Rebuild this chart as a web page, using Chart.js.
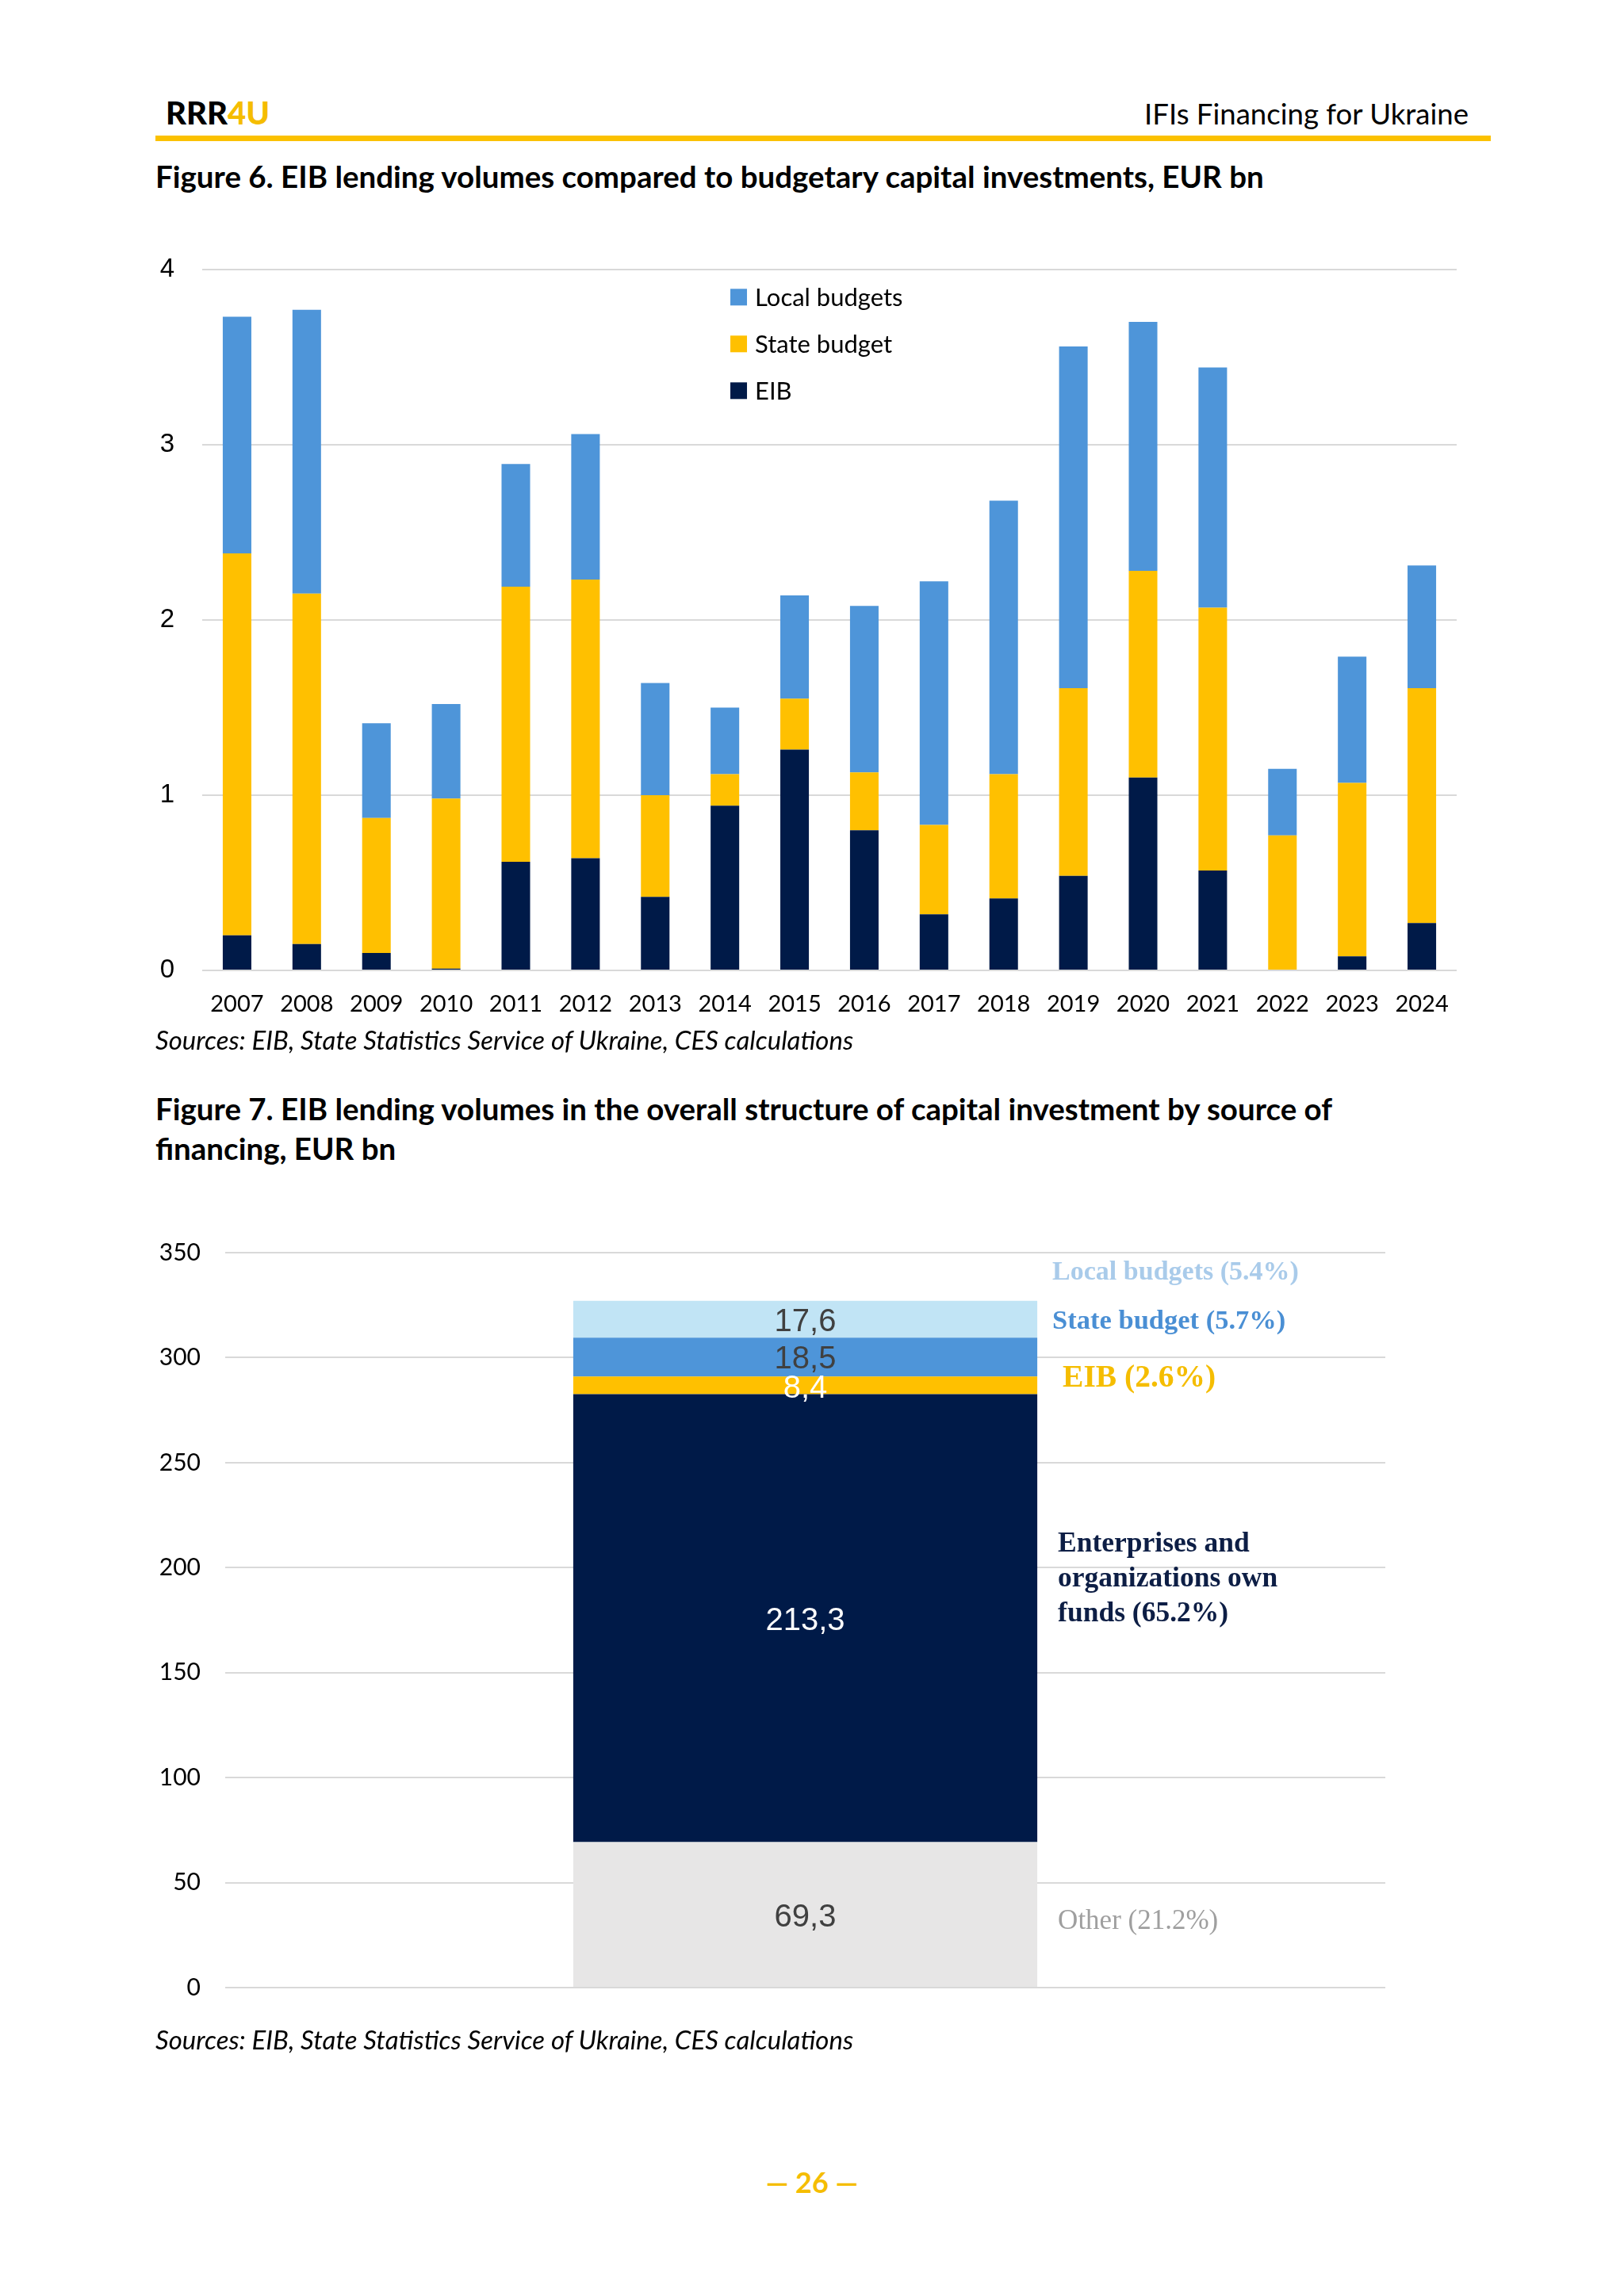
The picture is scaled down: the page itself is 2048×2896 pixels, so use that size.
<!DOCTYPE html>
<html>
<head>
<meta charset="utf-8">
<script src="https://cdn.jsdelivr.net/npm/chart.js@4.4.1/dist/chart.umd.min.js"></script>
<style>
  body { margin: 0; background: #fff; }
  #page { position: relative; width: 2048px; height: 2896px; overflow: hidden; font-family: Lato, "Noto Sans", sans-serif; color: #000; }
  .txt { position: absolute; white-space: nowrap; }
  .logo { left: 209px; top: 120px; font-size: 40px; line-height: 44px; font-weight: 900; }
  .logo span { color: #f5bd00; }
  .hdr { right: 196px; top: 123px; font-size: 36.6px; line-height: 40px; }
  .rule { position: absolute; left: 196px; top: 171px; width: 1684px; height: 7px; background: #fbc100; }
  .title { left: 196px; font-size: 38.5px; line-height: 50px; font-weight: 700; }
  .src { left: 196px; font-size: 33px; line-height: 36px; font-style: italic; }
  .box { position: absolute; left: 150px; width: 1720px; }
  .foot { left: 0; width: 2048px; text-align: center; top: 2733px; font-size: 36px; line-height: 38px; font-weight: 700; color: #f5bd00; }
</style>
</head>
<body>
<div id="page">
  <div class="txt logo">RRR<span>4U</span></div>
  <div class="txt hdr">IFIs Financing for Ukraine</div>
  <div class="rule"></div>

  <div class="txt title" style="top:197px">Figure 6. EIB lending volumes compared to budgetary capital investments, EUR bn</div>
  <div class="box" style="top:285px; height:1015px"><canvas id="chart6"></canvas></div>
  <div class="txt src" style="top:1293px">Sources: EIB, State Statistics Service of Ukraine, CES calculations</div>

  <div class="txt title" style="top:1373px">Figure 7. EIB lending volumes in the overall structure of capital investment by source of<br>financing, EUR bn</div>
  <div class="box" style="top:1531px; height:1025px"><canvas id="chart7"></canvas></div>
  <div class="txt src" style="top:2554px">Sources: EIB, State Statistics Service of Ukraine, CES calculations</div>

  <div class="txt foot">— 26 —</div>
</div>

<script>
// Figure 6 data, EUR bn (stack segments)
const years = ['2007', '2008', '2009', '2010', '2011', '2012', '2013', '2014', '2015',
               '2016', '2017', '2018', '2019', '2020', '2021', '2022', '2023', '2024'];
const eibLending   = [0.20, 0.15, 0.10, 0.01, 0.62, 0.64, 0.42, 0.94, 1.26, 0.80, 0.32, 0.41, 0.54, 1.10, 0.57, 0.00, 0.08, 0.27];
const stateBudget  = [2.18, 2.00, 0.77, 0.97, 1.57, 1.59, 0.58, 0.18, 0.29, 0.33, 0.51, 0.71, 1.07, 1.18, 1.50, 0.77, 0.99, 1.34];
const localBudgets = [1.35, 1.62, 0.54, 0.54, 0.70, 0.83, 0.64, 0.38, 0.59, 0.95, 1.39, 1.56, 1.95, 1.42, 1.37, 0.38, 0.72, 0.70];

// Figure 7 data, EUR bn (bottom to top)
const structureSources = ['Other', 'Enterprises and organizations own funds', 'EIB', 'State budget', 'Local budgets'];
const structureValues  = [69.3, 213.3, 8.4, 18.5, 17.6];
const structureValueLabels = ['69,3', '213,3', '8,4', '18,5', '17,6'];
const structureNotes = [['Other (21.2%)'], ['Enterprises and', 'organizations own', 'funds (65.2%)'], ['EIB (2.6%)'], ['State budget (5.7%)'], ['Local budgets (5.4%)']];

const NAVY = '#001a48';
const YELLOW = '#ffc000';
const BLUE = '#4e95d9';
const GRID = '#d9d9d9';

// legend drawn inside the plot, top item = last dataset
const innerLegend = {
  id: 'innerLegend',
  afterDraw(chart, args, opts) {
    const ctx = chart.ctx;
    const area = chart.chartArea;
    const x = area.left + area.width * opts.xFrac;
    ctx.save();
    ctx.font = opts.font;
    ctx.textBaseline = 'middle';
    const sets = chart.data.datasets.slice().reverse();
    sets.forEach((ds, i) => {
      const y = area.top + opts.top + i * opts.rowGap;
      ctx.fillStyle = ds.backgroundColor;
      ctx.fillRect(x, y - opts.box / 2, opts.box, opts.box);
      ctx.fillStyle = '#000';
      ctx.fillText(ds.label, x + opts.box + 10, y + 1);
    });
    ctx.restore();
  }
};

new Chart(document.getElementById('chart6'), {
  type: 'bar',
  data: {
    labels: years,
    datasets: [
      { label: 'EIB', data: eibLending, backgroundColor: NAVY },
      { label: 'State budget', data: stateBudget, backgroundColor: YELLOW },
      { label: 'Local budgets', data: localBudgets, backgroundColor: BLUE }
    ]
  },
  options: {
    responsive: true,
    maintainAspectRatio: false,
    animation: false,
    datasets: { bar: { barPercentage: 0.41, categoryPercentage: 1 } },
    layout: { padding: { top: 0, right: 33, left: 0, bottom: 0 } },
    plugins: {
      legend: { display: false },
      tooltip: { enabled: false },
      innerLegend: { xFrac: 0.421, top: 35, rowGap: 59, box: 21, font: '31px Lato, sans-serif' }
    },
    scales: {
      x: {
        stacked: true,
        grid: { display: false },
        border: { display: false },
        ticks: { color: '#000', font: { family: 'Lato', size: 29 }, padding: 17, maxRotation: 0, autoSkip: false },
        afterFit: s => { s.height = 76; }
      },
      y: {
        stacked: true,
        min: 0,
        max: 4,
        grid: { color: GRID, lineWidth: 2, drawTicks: false },
        border: { display: false },
        ticks: { stepSize: 1, color: '#000', font: { family: 'Liberation Sans', size: 33 }, padding: 35 },
        afterFit: s => { s.width = 105; }
      }
    }
  },
  plugins: [innerLegend]
});

// value labels inside segments + notes to the right of the bar
const segmentText = {
  id: 'segmentText',
  afterDatasetsDraw(chart, args, opts) {
    const ctx = chart.ctx;
    const yScale = chart.scales.y;
    ctx.save();
    chart.data.datasets.forEach((ds, i) => {
      const bar = chart.getDatasetMeta(i).data[0];
      const mid = (bar.y + bar.base) / 2;
      ctx.font = opts.valueFont;
      ctx.textAlign = 'center';
      ctx.textBaseline = 'middle';
      ctx.fillStyle = opts.valueColors[i];
      ctx.fillText(structureValueLabels[i], bar.x, mid + opts.valueShift[i]);

      const note = opts.notes[i];
      ctx.font = note.font;
      ctx.fillStyle = note.color;
      ctx.textAlign = 'left';
      const x = bar.x + bar.width / 2 + note.dx;
      const y0 = yScale.getPixelForValue(note.at);
      const lines = structureNotes[i];
      lines.forEach((line, k) => {
        ctx.fillText(line, x, y0 + (k - (lines.length - 1) / 2) * note.lineGap);
      });
    });
    ctx.restore();
  }
};

const structureColors = ['#e7e6e6', NAVY, YELLOW, BLUE, '#c1e4f5'];

new Chart(document.getElementById('chart7'), {
  type: 'bar',
  data: {
    labels: [''],
    datasets: structureSources.map((name, i) => ({
      label: name,
      data: [structureValues[i]],
      backgroundColor: structureColors[i]
    }))
  },
  options: {
    responsive: true,
    maintainAspectRatio: false,
    animation: false,
    datasets: { bar: { barPercentage: 0.40, categoryPercentage: 1 } },
    layout: { padding: { top: 0, right: 123, left: 0, bottom: 0 } },
    plugins: {
      legend: { display: false },
      tooltip: { enabled: false },
      segmentText: {
        valueFont: '40px "Liberation Sans", Arial, sans-serif',
        valueColors: ['#404040', '#ffffff', '#ffffff', '#404040', '#404040'],
        valueShift: [4, 4, 5, 3, 4],
        notes: [
          { at: 31.5, dx: 26, lineGap: 44, color: '#9f9f9f', font: '35px "Liberation Serif", serif' },
          { at: 194.6, dx: 26, lineGap: 44, color: '#0d1e45', font: 'bold 35.5px "Liberation Serif", serif' },
          { at: 290.2, dx: 32, lineGap: 44, color: '#f5bd00', font: 'bold 39.5px "Liberation Serif", serif' },
          { at: 317.3, dx: 19, lineGap: 44, color: '#4a8fd4', font: 'bold 34.5px "Liberation Serif", serif' },
          { at: 340.3, dx: 19, lineGap: 44, color: '#a9cbea', font: 'bold 34px "Liberation Serif", serif' }
        ]
      }
    },
    scales: {
      x: { stacked: true, display: false },
      y: {
        stacked: true,
        min: 0,
        max: 350,
        grid: { color: GRID, lineWidth: 2, drawTicks: false },
        border: { display: false },
        ticks: { stepSize: 50, color: '#000', font: { family: 'Lato', size: 30 }, padding: 31 },
        afterFit: s => { s.width = 134; }
      }
    }
  },
  plugins: [segmentText]
});
</script>
</body>
</html>
